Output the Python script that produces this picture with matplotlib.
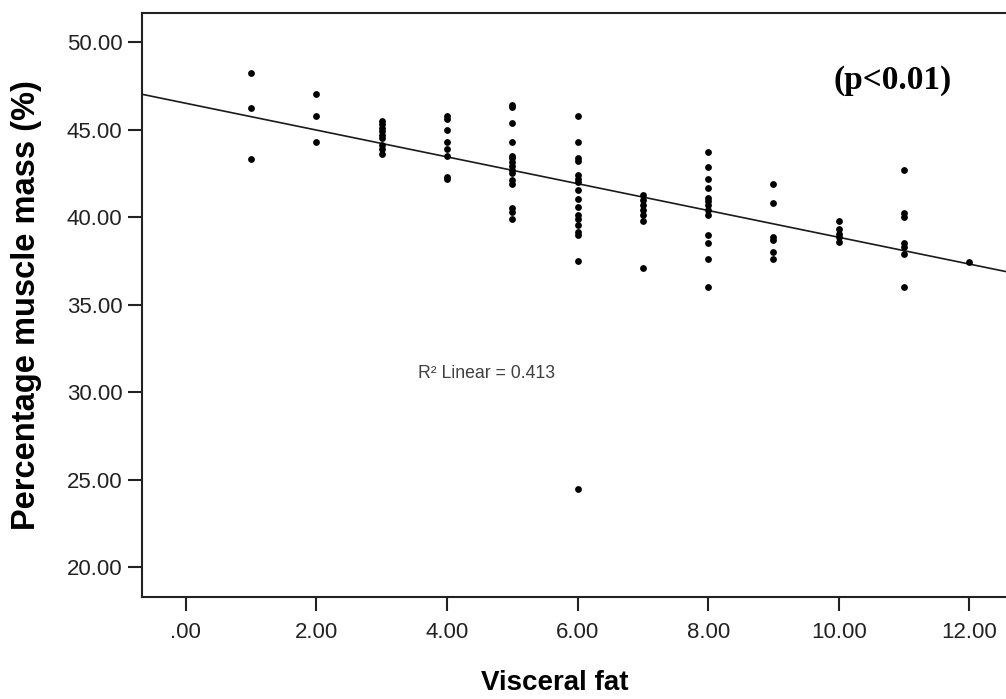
import matplotlib
matplotlib.use("Agg")
import matplotlib.pyplot as plt
from matplotlib.ticker import FuncFormatter

# ---- data ----
visceral_fat = ([1] * 3 + [2] * 3 + [3] * 9 + [4] * 8 + [5] * 15 + [6] * 17 +
                [7] * 7 + [8] * 13 + [9] * 6 + [10] * 5 + [11] * 7 + [12] * 1)
muscle_mass = [
    48.2, 46.2, 43.3,
    47.0, 45.8, 44.3,
    45.5, 45.3, 45.1, 44.9, 44.7, 44.5, 44.1, 43.9, 43.6,
    45.8, 45.6, 45.0, 44.3, 43.9, 43.5, 42.3, 42.2,
    46.4, 46.3, 45.4, 44.3, 43.5, 43.35, 43.15, 42.9, 42.7, 42.5, 42.1, 41.9, 40.5, 40.3, 39.9,
    45.8, 44.3, 43.35, 43.2, 42.4, 42.2, 42.0, 41.55, 41.05, 40.6, 40.1, 39.9, 39.55, 39.15, 39.0, 37.5, 24.45,
    41.25, 40.95, 40.7, 40.4, 40.1, 39.75, 37.1,
    43.7, 42.85, 42.2, 41.65, 41.1, 40.9, 40.7, 40.4, 40.1, 38.95, 38.5, 37.6, 36.0,
    41.9, 40.8, 38.85, 38.7, 38.0, 37.6,
    39.8, 39.3, 39.05, 38.85, 38.6,
    42.7, 40.25, 40.0, 38.5, 38.3, 37.9, 36.0,
    37.45,
]
fit_intercept = 46.50
fit_slope = -0.7655
x_ticks = [0, 2, 4, 6, 8, 10, 12]
y_ticks = [20, 25, 30, 35, 40, 45, 50]
x_label = "Visceral fat"
y_label = "Percentage muscle mass (%)"
r2_text = "R² Linear = 0.413"
p_text = "(p<0.01)"

# ---- figure ----
W, H = 1006, 699
fig = plt.figure(figsize=(W / 100, H / 100), dpi=100)
ax = fig.add_axes([0.1409, 0.1464, 0.8591, 0.8354])
xmin, xmax = -0.673, 12.56
ymin, ymax = 18.32, 51.67
ax.set_xlim(xmin, xmax)
ax.set_ylim(ymin, ymax)

ax.scatter(visceral_fat, muscle_mass, s=24, c="black", marker="o",
           linewidths=0, zorder=3)
ax.plot([xmin, xmax], [fit_intercept + fit_slope * xmin, fit_intercept + fit_slope * xmax],
        color="#1a1a1a", lw=1.2, zorder=2)

for side in ("left", "bottom", "top"):
    ax.spines[side].set_linewidth(1.5)
    ax.spines[side].set_color("#222222")
ax.spines["right"].set_visible(False)

ax.set_xticks(x_ticks)
ax.set_yticks(y_ticks)


def fmt(v, pos):
    s = f"{v:.2f}"
    return s[1:] if s.startswith("0.") else s


ax.xaxis.set_major_formatter(FuncFormatter(fmt))
ax.yaxis.set_major_formatter(FuncFormatter(fmt))
ax.tick_params(axis="both", direction="out", length=10, width=1.5, color="#222222",
               labelsize=16, labelcolor="#222222", pad=4)
ax.tick_params(axis="x", pad=8)
for lab in ax.get_xticklabels() + ax.get_yticklabels():
    lab.set_fontfamily("Liberation Sans")

ax.set_xlabel(x_label, fontsize=20, fontweight="bold", family="Liberation Sans")
ax.xaxis.set_label_coords(0.478, -0.125)
ax.set_ylabel(y_label, fontsize=23.5, fontweight="bold", family="Liberation Sans")
ax.yaxis.set_label_coords((26 - 141.7) / (W - 141.7), 0.5)
ax.yaxis.label.set_va("center")

fig.text(486 / W, 1 - 373 / H, r2_text, fontsize=12.7, color="#404040",
         family="Liberation Sans", ha="center", va="center")
fig.text(893 / W, 1 - 80 / H, p_text, fontsize=24, fontweight="bold",
         family="Liberation Serif", ha="center", va="center")

fig.savefig("out.png", dpi=100)
